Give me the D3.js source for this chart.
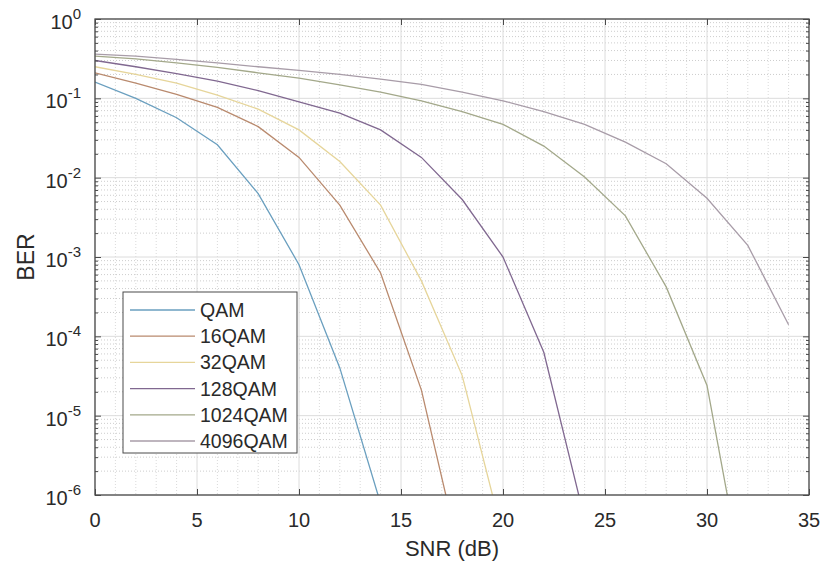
<!DOCTYPE html>
<html><head><meta charset="utf-8">
<script src="https://cdn.jsdelivr.net/npm/d3@7"></script>
<style>
html,body{margin:0;padding:0;background:#fff;}
text{font-family:"Liberation Sans",Arial,sans-serif;fill:#2a2a2a;}
</style></head>
<body>
<svg id="c" width="825" height="569"></svg>
<script>
const snr = [0,2,4,6,8,10,12,14,16,18,20,22,24,26,28,30,32,34];
const seriesNames = ["QAM","16QAM","32QAM","128QAM","1024QAM","4096QAM"];
const berQAM   = [0.16,0.10,0.057,0.026,0.0063,0.0008,0.00004,7.8e-7];
const ber16QAM = [0.21,0.155,0.112,0.077,0.044,0.018,0.0045,0.00063,0.000021,1.3e-7];
const ber32QAM = [0.25,0.20,0.155,0.11,0.073,0.04,0.016,0.0045,0.0005,0.000032,3e-7];
const ber128QAM= [0.30,0.25,0.205,0.165,0.125,0.09,0.065,0.04,0.018,0.0053,0.001,0.000063,5e-7];
const ber1024QAM=[0.34,0.315,0.28,0.245,0.21,0.18,0.148,0.12,0.093,0.068,0.047,0.025,0.0102,0.0033,0.00042,0.000024,4e-8];
const ber4096QAM=[0.36,0.34,0.31,0.28,0.25,0.225,0.2,0.175,0.15,0.12,0.093,0.068,0.047,0.028,0.015,0.0055,0.0014,0.00014];
const seriesValues = [berQAM,ber16QAM,ber32QAM,ber128QAM,ber1024QAM,ber4096QAM];
const colors = ["#6a9fbf","#b98a6e","#e6d59a","#806890","#a3a88a","#a89ca8"];
const xTicks = [0,5,10,15,20,25,30,35];
const yTickExp = [0,-1,-2,-3,-4,-5,-6];
const xLabel = "SNR (dB)", yLabel = "BER";

const L=95,R=809,T=19,B=495;
const svg = d3.select("#c");
const x = d3.scaleLinear().domain([0,35]).range([L,R]);
const y = d3.scaleLog().domain([1e-6,1]).range([B,T]);

// minor grid
const yMinor=[];
for(let e=-6;e<0;e++) for(let m=2;m<=9;m++) yMinor.push(m*Math.pow(10,e));
const xMinor=d3.range(1,35).filter(v=>v%5!==0);
const g=svg.append("g");
g.selectAll(".ym").data(yMinor).join("line")
 .attr("x1",L).attr("x2",R).attr("y1",d=>y(d)).attr("y2",d=>y(d))
 .attr("stroke","#cdcdcd").attr("stroke-width",1).attr("stroke-dasharray","1,2");
g.selectAll(".xm").data(xMinor).join("line")
 .attr("y1",T).attr("y2",B).attr("x1",d=>x(d)).attr("x2",d=>x(d))
 .attr("stroke","#dadada").attr("stroke-width",1).attr("stroke-dasharray","1,2");
// major grid
g.selectAll(".yM").data(yTickExp.map(e=>Math.pow(10,e))).join("line")
 .attr("x1",L).attr("x2",R).attr("y1",d=>y(d)).attr("y2",d=>y(d))
 .attr("stroke","#dcdcdc").attr("stroke-width",1);
g.selectAll(".xM").data(xTicks).join("line")
 .attr("y1",T).attr("y2",B).attr("x1",d=>x(d)).attr("x2",d=>x(d))
 .attr("stroke","#dcdcdc").attr("stroke-width",1);

// clip
svg.append("clipPath").attr("id","clip").append("rect")
 .attr("x",L).attr("y",T).attr("width",R-L).attr("height",B-T);

const line = d3.line().x((d,i)=>x(snr[i])).y(d=>y(d));
svg.append("g").attr("clip-path","url(#clip)")
 .selectAll("path").data(seriesValues).join("path")
 .attr("d",d=>line(d)).attr("fill","none")
 .attr("stroke",(d,i)=>colors[i]).attr("stroke-width",1.3);

// axes (ticks inward)
const axCol="#4a4a4a";
function style(sel){sel.select(".domain").remove();sel.selectAll("line").attr("stroke",axCol);sel.selectAll("text").remove();}
const yMajor=yTickExp.map(e=>Math.pow(10,e));
svg.append("g").attr("transform",`translate(0,${B})`).call(d3.axisBottom(x).tickValues(xTicks).tickSizeInner(-6).tickSizeOuter(0)).call(style);
svg.append("g").attr("transform",`translate(0,${T})`).call(d3.axisTop(x).tickValues(xTicks).tickSizeInner(-6).tickSizeOuter(0)).call(style);
svg.append("g").attr("transform",`translate(${L},0)`).call(d3.axisLeft(y).tickValues(yMajor).tickSizeInner(-6).tickSizeOuter(0)).call(style);
svg.append("g").attr("transform",`translate(${R},0)`).call(d3.axisRight(y).tickValues(yMajor).tickSizeInner(-6).tickSizeOuter(0)).call(style);
svg.append("g").attr("transform",`translate(${L},0)`).call(d3.axisLeft(y).tickValues(yMinor).tickSizeInner(-3).tickSizeOuter(0)).call(style);
svg.append("g").attr("transform",`translate(${R},0)`).call(d3.axisRight(y).tickValues(yMinor).tickSizeInner(-3).tickSizeOuter(0)).call(style);

svg.append("rect").attr("x",L).attr("y",T).attr("width",R-L).attr("height",B-T)
 .attr("fill","none").attr("stroke",axCol).attr("stroke-width",1.3);

// tick labels
svg.append("g").selectAll("text").data(xTicks).join("text")
 .attr("x",d=>x(d)).attr("y",B+32).attr("text-anchor","middle")
 .attr("font-size",20).text(d=>d);
const yl=svg.append("g").selectAll("text").data(yTickExp).join("text")
 .attr("x",L-14).attr("y",d=>y(Math.pow(10,d))+10).attr("text-anchor","end").attr("font-size",20);
yl.append("tspan").text("10");
yl.append("tspan").attr("dy",-10).attr("font-size",15).text(d=>d===0?"0":"-"+(-d));

svg.append("text").attr("x",(L+R)/2).attr("y",556).attr("text-anchor","middle")
 .attr("font-size",22).text(xLabel);
svg.append("text").attr("transform",`translate(34,${(T+B)/2}) rotate(-90)`)
 .attr("text-anchor","middle").attr("font-size",23).text(yLabel);

// legend
const lg=svg.append("g");
lg.append("rect").attr("x",123).attr("y",292).attr("width",174).attr("height",161)
 .attr("fill","#fff").attr("stroke",axCol).attr("stroke-width",1);
const rows=lg.selectAll("g").data(seriesNames).join("g")
 .attr("transform",(d,i)=>`translate(0,${310+i*26.2})`);
rows.append("line").attr("x1",130).attr("x2",195).attr("y1",0).attr("y2",0)
 .attr("stroke",(d,i)=>colors[i]).attr("stroke-width",1.3);
rows.append("text").attr("x",200).attr("y",7).attr("font-size",19.5).text(d=>d);
</script>
</body></html>
